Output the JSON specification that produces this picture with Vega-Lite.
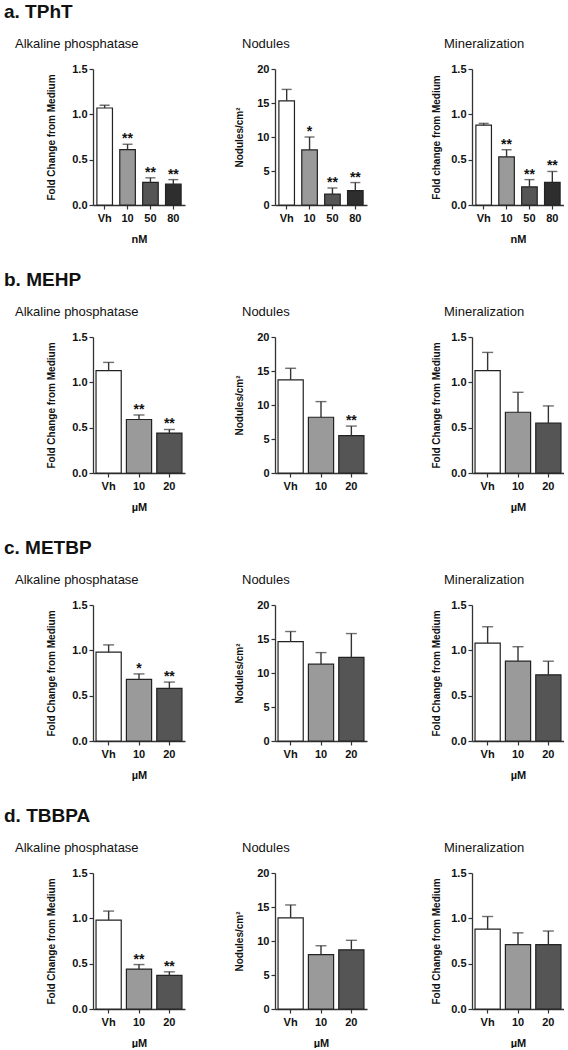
{
  "$schema": "https://vega.github.io/schema/vega-lite/v6.json",
  "padding": {"left": 4, "top": 3, "right": 0, "bottom": 0},
  "background": "white",
  "datasets": {
    "bars": [
      {"sec": "a", "panel": "ALP", "grp": "Vh", "value": 1.07, "hi": 1.10, "sig": ""},
      {"sec": "a", "panel": "ALP", "grp": "10", "value": 0.61, "hi": 0.67, "sig": "**"},
      {"sec": "a", "panel": "ALP", "grp": "50", "value": 0.25, "hi": 0.30, "sig": "**"},
      {"sec": "a", "panel": "ALP", "grp": "80", "value": 0.23, "hi": 0.28, "sig": "**"},
      {"sec": "a", "panel": "NOD", "grp": "Vh", "value": 15.3, "hi": 17.0, "sig": ""},
      {"sec": "a", "panel": "NOD", "grp": "10", "value": 8.1, "hi": 10.0, "sig": "*"},
      {"sec": "a", "panel": "NOD", "grp": "50", "value": 1.6, "hi": 2.5, "sig": "**"},
      {"sec": "a", "panel": "NOD", "grp": "80", "value": 2.1, "hi": 3.3, "sig": "**"},
      {"sec": "a", "panel": "MIN", "grp": "Vh", "value": 0.88, "hi": 0.90, "sig": ""},
      {"sec": "a", "panel": "MIN", "grp": "10", "value": 0.53, "hi": 0.61, "sig": "**"},
      {"sec": "a", "panel": "MIN", "grp": "50", "value": 0.20, "hi": 0.28, "sig": "**"},
      {"sec": "a", "panel": "MIN", "grp": "80", "value": 0.25, "hi": 0.37, "sig": "**"},
      {"sec": "b", "panel": "ALP", "grp": "Vh", "value": 1.13, "hi": 1.22, "sig": ""},
      {"sec": "b", "panel": "ALP", "grp": "10", "value": 0.59, "hi": 0.64, "sig": "**"},
      {"sec": "b", "panel": "ALP", "grp": "20", "value": 0.44, "hi": 0.48, "sig": "**"},
      {"sec": "b", "panel": "NOD", "grp": "Vh", "value": 13.7, "hi": 15.4, "sig": ""},
      {"sec": "b", "panel": "NOD", "grp": "10", "value": 8.2, "hi": 10.5, "sig": ""},
      {"sec": "b", "panel": "NOD", "grp": "20", "value": 5.5, "hi": 6.9, "sig": "**"},
      {"sec": "b", "panel": "MIN", "grp": "Vh", "value": 1.13, "hi": 1.33, "sig": ""},
      {"sec": "b", "panel": "MIN", "grp": "10", "value": 0.67, "hi": 0.89, "sig": ""},
      {"sec": "b", "panel": "MIN", "grp": "20", "value": 0.55, "hi": 0.74, "sig": ""},
      {"sec": "c", "panel": "ALP", "grp": "Vh", "value": 0.98, "hi": 1.06, "sig": ""},
      {"sec": "c", "panel": "ALP", "grp": "10", "value": 0.68, "hi": 0.74, "sig": "*"},
      {"sec": "c", "panel": "ALP", "grp": "20", "value": 0.58, "hi": 0.65, "sig": "**"},
      {"sec": "c", "panel": "NOD", "grp": "Vh", "value": 14.6, "hi": 16.1, "sig": ""},
      {"sec": "c", "panel": "NOD", "grp": "10", "value": 11.3, "hi": 13.0, "sig": ""},
      {"sec": "c", "panel": "NOD", "grp": "20", "value": 12.3, "hi": 15.8, "sig": ""},
      {"sec": "c", "panel": "MIN", "grp": "Vh", "value": 1.08, "hi": 1.26, "sig": ""},
      {"sec": "c", "panel": "MIN", "grp": "10", "value": 0.88, "hi": 1.04, "sig": ""},
      {"sec": "c", "panel": "MIN", "grp": "20", "value": 0.73, "hi": 0.88, "sig": ""},
      {"sec": "d", "panel": "ALP", "grp": "Vh", "value": 0.98, "hi": 1.08, "sig": ""},
      {"sec": "d", "panel": "ALP", "grp": "10", "value": 0.44, "hi": 0.49, "sig": "**"},
      {"sec": "d", "panel": "ALP", "grp": "20", "value": 0.37, "hi": 0.41, "sig": "**"},
      {"sec": "d", "panel": "NOD", "grp": "Vh", "value": 13.4, "hi": 15.3, "sig": ""},
      {"sec": "d", "panel": "NOD", "grp": "10", "value": 8.0, "hi": 9.3, "sig": ""},
      {"sec": "d", "panel": "NOD", "grp": "20", "value": 8.7, "hi": 10.1, "sig": ""},
      {"sec": "d", "panel": "MIN", "grp": "Vh", "value": 0.88, "hi": 1.02, "sig": ""},
      {"sec": "d", "panel": "MIN", "grp": "10", "value": 0.71, "hi": 0.84, "sig": ""},
      {"sec": "d", "panel": "MIN", "grp": "20", "value": 0.71, "hi": 0.86, "sig": ""}
    ]
  },
  "data": {"name": "bars"},
  "config": {
    "font": "Liberation Sans",
    "view": {"stroke": null},
    "axis": {
      "grid": false,
      "labelFont": "Liberation Sans",
      "labelFontWeight": "bold",
      "labelFontSize": 11,
      "labelColor": "#111",
      "titleFont": "Liberation Sans",
      "titleFontWeight": "bold",
      "titleFontSize": 10,
      "titleColor": "#111",
      "domainColor": "#333",
      "domainWidth": 1.3,
      "tickColor": "#333",
      "tickWidth": 1.2,
      "tickSize": 4,
      "labelOverlap": false
    },
    "axisX": {"labelAngle": 0, "labelPadding": 3, "titlePadding": 10, "titleFontSize": 11},
    "axisY": {"labelPadding": 2},
    "title": {"font": "Liberation Sans", "color": "#111"},
    "concat": {"spacing": 27}
  },
  "vconcat": [
    {
      "title": {"text": "a. TPhT", "fontSize": 19, "fontWeight": "bold", "anchor": "start", "offset": 16, "dx": -11},
      "spacing": 49,
      "hconcat": [
        {
          "width": 92, "height": 136,
          "title": {"text": "Alkaline phosphatase", "fontSize": 13, "fontWeight": "normal", "anchor": "start", "frame": "group", "dx": -78, "offset": 12},
          "transform": [{"filter": "datum.sec == 'a' && datum.panel == 'ALP'"}],
          "encoding": {"x": {"field": "grp", "type": "nominal", "sort": null, "scale": {"paddingInner": 0.32, "paddingOuter": 0.17}, "axis": {"title": "nM"}}},
          "layer": [
            {"mark": {"type": "bar", "stroke": "#222", "strokeWidth": 1.2}, "encoding": {"y": {"field": "value", "type": "quantitative", "scale": {"domain": [0, 1.5], "nice": false}, "axis": {"values": [0, 0.5, 1, 1.5], "format": ".1f", "title": "Fold Change from Medium", "titlePadding": 15}}, "fill": {"field": "grp", "type": "nominal", "scale": {"domain": ["Vh", "10", "50", "80", "20"], "range": ["#ffffff", "#9a9a9a", "#555555", "#2e2e2e", "#555555"]}, "legend": null}}},
            {"mark": {"type": "rule", "color": "#333", "strokeWidth": 1.4}, "encoding": {"y": {"field": "value", "type": "quantitative", "axis": {"values": [0, 0.5, 1, 1.5], "format": ".1f", "title": "Fold Change from Medium", "titlePadding": 15}}, "y2": {"field": "hi"}}},
            {"mark": {"type": "tick", "orient": "horizontal", "color": "#333", "thickness": 1.4, "size": 10}, "encoding": {"y": {"field": "hi", "type": "quantitative", "axis": {"values": [0, 0.5, 1, 1.5], "format": ".1f", "title": "Fold Change from Medium", "titlePadding": 15}}}},
            {"mark": {"type": "text", "baseline": "bottom", "fontWeight": "bold", "fontSize": 14, "dy": 2, "color": "#111"}, "encoding": {"y": {"field": "hi", "type": "quantitative", "axis": {"values": [0, 0.5, 1, 1.5], "format": ".1f", "title": "Fold Change from Medium", "titlePadding": 15}}, "text": {"field": "sig"}}}
          ]
        },
        {
          "spacing": 64,
          "hconcat": [
            {
              "width": 92, "height": 136,
              "title": {"text": "Nodules", "fontSize": 13, "fontWeight": "normal", "anchor": "start", "frame": "group", "dx": -33, "offset": 12},
              "transform": [{"filter": "datum.sec == 'a' && datum.panel == 'NOD'"}],
              "encoding": {"x": {"field": "grp", "type": "nominal", "sort": null, "scale": {"paddingInner": 0.32, "paddingOuter": 0.17}, "axis": {"title": null}}},
              "layer": [
                {"mark": {"type": "bar", "stroke": "#222", "strokeWidth": 1.2}, "encoding": {"y": {"field": "value", "type": "quantitative", "scale": {"domain": [0, 20], "nice": false}, "axis": {"values": [0, 5, 10, 15, 20], "title": "Nodules/cm²", "titlePadding": 12}}, "fill": {"field": "grp", "type": "nominal", "scale": {"domain": ["Vh", "10", "50", "80", "20"], "range": ["#ffffff", "#9a9a9a", "#555555", "#2e2e2e", "#555555"]}, "legend": null}}},
                {"mark": {"type": "rule", "color": "#333", "strokeWidth": 1.4}, "encoding": {"y": {"field": "value", "type": "quantitative", "axis": {"values": [0, 5, 10, 15, 20], "title": "Nodules/cm²", "titlePadding": 12}}, "y2": {"field": "hi"}}},
                {"mark": {"type": "tick", "orient": "horizontal", "color": "#333", "thickness": 1.4, "size": 10}, "encoding": {"y": {"field": "hi", "type": "quantitative", "axis": {"values": [0, 5, 10, 15, 20], "title": "Nodules/cm²", "titlePadding": 12}}}},
                {"mark": {"type": "text", "baseline": "bottom", "fontWeight": "bold", "fontSize": 14, "dy": 2, "color": "#111"}, "encoding": {"y": {"field": "hi", "type": "quantitative", "axis": {"values": [0, 5, 10, 15, 20], "title": "Nodules/cm²", "titlePadding": 12}}, "text": {"field": "sig"}}}
              ]
            },
            {
              "width": 92, "height": 136,
              "title": {"text": "Mineralization", "fontSize": 13, "fontWeight": "normal", "anchor": "start", "frame": "group", "dx": -28, "offset": 12},
              "transform": [{"filter": "datum.sec == 'a' && datum.panel == 'MIN'"}],
              "encoding": {"x": {"field": "grp", "type": "nominal", "sort": null, "scale": {"paddingInner": 0.32, "paddingOuter": 0.17}, "axis": {"title": "nM"}}},
              "layer": [
                {"mark": {"type": "bar", "stroke": "#222", "strokeWidth": 1.2}, "encoding": {"y": {"field": "value", "type": "quantitative", "scale": {"domain": [0, 1.5], "nice": false}, "axis": {"values": [0, 0.5, 1, 1.5], "format": ".1f", "title": "Fold change from Medium", "titlePadding": 9}}, "fill": {"field": "grp", "type": "nominal", "scale": {"domain": ["Vh", "10", "50", "80", "20"], "range": ["#ffffff", "#9a9a9a", "#555555", "#2e2e2e", "#555555"]}, "legend": null}}},
                {"mark": {"type": "rule", "color": "#333", "strokeWidth": 1.4}, "encoding": {"y": {"field": "value", "type": "quantitative", "axis": {"values": [0, 0.5, 1, 1.5], "format": ".1f", "title": "Fold change from Medium", "titlePadding": 9}}, "y2": {"field": "hi"}}},
                {"mark": {"type": "tick", "orient": "horizontal", "color": "#333", "thickness": 1.4, "size": 10}, "encoding": {"y": {"field": "hi", "type": "quantitative", "axis": {"values": [0, 0.5, 1, 1.5], "format": ".1f", "title": "Fold change from Medium", "titlePadding": 9}}}},
                {"mark": {"type": "text", "baseline": "bottom", "fontWeight": "bold", "fontSize": 14, "dy": 2, "color": "#111"}, "encoding": {"y": {"field": "hi", "type": "quantitative", "axis": {"values": [0, 0.5, 1, 1.5], "format": ".1f", "title": "Fold change from Medium", "titlePadding": 9}}, "text": {"field": "sig"}}}
              ]
            }
          ]
        }
      ]
    },
    {
      "title": {"text": "b. MEHP", "fontSize": 19, "fontWeight": "bold", "anchor": "start", "offset": 16, "dx": -11},
      "spacing": 49,
      "hconcat": [
        {
          "width": 92, "height": 136,
          "title": {"text": "Alkaline phosphatase", "fontSize": 13, "fontWeight": "normal", "anchor": "start", "frame": "group", "dx": -78, "offset": 12},
          "transform": [{"filter": "datum.sec == 'b' && datum.panel == 'ALP'"}],
          "encoding": {"x": {"field": "grp", "type": "nominal", "sort": null, "scale": {"paddingInner": 0.17, "paddingOuter": 0.1}, "axis": {"title": "µM"}}},
          "layer": [
            {"mark": {"type": "bar", "stroke": "#222", "strokeWidth": 1.2}, "encoding": {"y": {"field": "value", "type": "quantitative", "scale": {"domain": [0, 1.5], "nice": false}, "axis": {"values": [0, 0.5, 1, 1.5], "format": ".1f", "title": "Fold Change from Medium", "titlePadding": 15}}, "fill": {"field": "grp", "type": "nominal", "scale": {"domain": ["Vh", "10", "50", "80", "20"], "range": ["#ffffff", "#9a9a9a", "#555555", "#2e2e2e", "#555555"]}, "legend": null}}},
            {"mark": {"type": "rule", "color": "#333", "strokeWidth": 1.4}, "encoding": {"y": {"field": "value", "type": "quantitative", "axis": {"values": [0, 0.5, 1, 1.5], "format": ".1f", "title": "Fold Change from Medium", "titlePadding": 15}}, "y2": {"field": "hi"}}},
            {"mark": {"type": "tick", "orient": "horizontal", "color": "#333", "thickness": 1.4, "size": 11}, "encoding": {"y": {"field": "hi", "type": "quantitative", "axis": {"values": [0, 0.5, 1, 1.5], "format": ".1f", "title": "Fold Change from Medium", "titlePadding": 15}}}},
            {"mark": {"type": "text", "baseline": "bottom", "fontWeight": "bold", "fontSize": 14, "dy": 2, "color": "#111"}, "encoding": {"y": {"field": "hi", "type": "quantitative", "axis": {"values": [0, 0.5, 1, 1.5], "format": ".1f", "title": "Fold Change from Medium", "titlePadding": 15}}, "text": {"field": "sig"}}}
          ]
        },
        {
          "spacing": 64,
          "hconcat": [
            {
              "width": 92, "height": 136,
              "title": {"text": "Nodules", "fontSize": 13, "fontWeight": "normal", "anchor": "start", "frame": "group", "dx": -33, "offset": 12},
              "transform": [{"filter": "datum.sec == 'b' && datum.panel == 'NOD'"}],
              "encoding": {"x": {"field": "grp", "type": "nominal", "sort": null, "scale": {"paddingInner": 0.17, "paddingOuter": 0.1}, "axis": {"title": null}}},
              "layer": [
                {"mark": {"type": "bar", "stroke": "#222", "strokeWidth": 1.2}, "encoding": {"y": {"field": "value", "type": "quantitative", "scale": {"domain": [0, 20], "nice": false}, "axis": {"values": [0, 5, 10, 15, 20], "title": "Nodules/cm²", "titlePadding": 12}}, "fill": {"field": "grp", "type": "nominal", "scale": {"domain": ["Vh", "10", "50", "80", "20"], "range": ["#ffffff", "#9a9a9a", "#555555", "#2e2e2e", "#555555"]}, "legend": null}}},
                {"mark": {"type": "rule", "color": "#333", "strokeWidth": 1.4}, "encoding": {"y": {"field": "value", "type": "quantitative", "axis": {"values": [0, 5, 10, 15, 20], "title": "Nodules/cm²", "titlePadding": 12}}, "y2": {"field": "hi"}}},
                {"mark": {"type": "tick", "orient": "horizontal", "color": "#333", "thickness": 1.4, "size": 11}, "encoding": {"y": {"field": "hi", "type": "quantitative", "axis": {"values": [0, 5, 10, 15, 20], "title": "Nodules/cm²", "titlePadding": 12}}}},
                {"mark": {"type": "text", "baseline": "bottom", "fontWeight": "bold", "fontSize": 14, "dy": 2, "color": "#111"}, "encoding": {"y": {"field": "hi", "type": "quantitative", "axis": {"values": [0, 5, 10, 15, 20], "title": "Nodules/cm²", "titlePadding": 12}}, "text": {"field": "sig"}}}
              ]
            },
            {
              "width": 92, "height": 136,
              "title": {"text": "Mineralization", "fontSize": 13, "fontWeight": "normal", "anchor": "start", "frame": "group", "dx": -28, "offset": 12},
              "transform": [{"filter": "datum.sec == 'b' && datum.panel == 'MIN'"}],
              "encoding": {"x": {"field": "grp", "type": "nominal", "sort": null, "scale": {"paddingInner": 0.17, "paddingOuter": 0.1}, "axis": {"title": "µM"}}},
              "layer": [
                {"mark": {"type": "bar", "stroke": "#222", "strokeWidth": 1.2}, "encoding": {"y": {"field": "value", "type": "quantitative", "scale": {"domain": [0, 1.5], "nice": false}, "axis": {"values": [0, 0.5, 1, 1.5], "format": ".1f", "title": "Fold Change from Medium", "titlePadding": 9}}, "fill": {"field": "grp", "type": "nominal", "scale": {"domain": ["Vh", "10", "50", "80", "20"], "range": ["#ffffff", "#9a9a9a", "#555555", "#2e2e2e", "#555555"]}, "legend": null}}},
                {"mark": {"type": "rule", "color": "#333", "strokeWidth": 1.4}, "encoding": {"y": {"field": "value", "type": "quantitative", "axis": {"values": [0, 0.5, 1, 1.5], "format": ".1f", "title": "Fold Change from Medium", "titlePadding": 9}}, "y2": {"field": "hi"}}},
                {"mark": {"type": "tick", "orient": "horizontal", "color": "#333", "thickness": 1.4, "size": 11}, "encoding": {"y": {"field": "hi", "type": "quantitative", "axis": {"values": [0, 0.5, 1, 1.5], "format": ".1f", "title": "Fold Change from Medium", "titlePadding": 9}}}},
                {"mark": {"type": "text", "baseline": "bottom", "fontWeight": "bold", "fontSize": 14, "dy": 2, "color": "#111"}, "encoding": {"y": {"field": "hi", "type": "quantitative", "axis": {"values": [0, 0.5, 1, 1.5], "format": ".1f", "title": "Fold Change from Medium", "titlePadding": 9}}, "text": {"field": "sig"}}}
              ]
            }
          ]
        }
      ]
    },
    {
      "title": {"text": "c. METBP", "fontSize": 19, "fontWeight": "bold", "anchor": "start", "offset": 16, "dx": -11},
      "spacing": 49,
      "hconcat": [
        {
          "width": 92, "height": 136,
          "title": {"text": "Alkaline phosphatase", "fontSize": 13, "fontWeight": "normal", "anchor": "start", "frame": "group", "dx": -78, "offset": 12},
          "transform": [{"filter": "datum.sec == 'c' && datum.panel == 'ALP'"}],
          "encoding": {"x": {"field": "grp", "type": "nominal", "sort": null, "scale": {"paddingInner": 0.17, "paddingOuter": 0.1}, "axis": {"title": "µM"}}},
          "layer": [
            {"mark": {"type": "bar", "stroke": "#222", "strokeWidth": 1.2}, "encoding": {"y": {"field": "value", "type": "quantitative", "scale": {"domain": [0, 1.5], "nice": false}, "axis": {"values": [0, 0.5, 1, 1.5], "format": ".1f", "title": "Fold Change from Medium", "titlePadding": 15}}, "fill": {"field": "grp", "type": "nominal", "scale": {"domain": ["Vh", "10", "50", "80", "20"], "range": ["#ffffff", "#9a9a9a", "#555555", "#2e2e2e", "#555555"]}, "legend": null}}},
            {"mark": {"type": "rule", "color": "#333", "strokeWidth": 1.4}, "encoding": {"y": {"field": "value", "type": "quantitative", "axis": {"values": [0, 0.5, 1, 1.5], "format": ".1f", "title": "Fold Change from Medium", "titlePadding": 15}}, "y2": {"field": "hi"}}},
            {"mark": {"type": "tick", "orient": "horizontal", "color": "#333", "thickness": 1.4, "size": 11}, "encoding": {"y": {"field": "hi", "type": "quantitative", "axis": {"values": [0, 0.5, 1, 1.5], "format": ".1f", "title": "Fold Change from Medium", "titlePadding": 15}}}},
            {"mark": {"type": "text", "baseline": "bottom", "fontWeight": "bold", "fontSize": 14, "dy": 2, "color": "#111"}, "encoding": {"y": {"field": "hi", "type": "quantitative", "axis": {"values": [0, 0.5, 1, 1.5], "format": ".1f", "title": "Fold Change from Medium", "titlePadding": 15}}, "text": {"field": "sig"}}}
          ]
        },
        {
          "spacing": 64,
          "hconcat": [
            {
              "width": 92, "height": 136,
              "title": {"text": "Nodules", "fontSize": 13, "fontWeight": "normal", "anchor": "start", "frame": "group", "dx": -33, "offset": 12},
              "transform": [{"filter": "datum.sec == 'c' && datum.panel == 'NOD'"}],
              "encoding": {"x": {"field": "grp", "type": "nominal", "sort": null, "scale": {"paddingInner": 0.17, "paddingOuter": 0.1}, "axis": {"title": null}}},
              "layer": [
                {"mark": {"type": "bar", "stroke": "#222", "strokeWidth": 1.2}, "encoding": {"y": {"field": "value", "type": "quantitative", "scale": {"domain": [0, 20], "nice": false}, "axis": {"values": [0, 5, 10, 15, 20], "title": "Nodules/cm²", "titlePadding": 12}}, "fill": {"field": "grp", "type": "nominal", "scale": {"domain": ["Vh", "10", "50", "80", "20"], "range": ["#ffffff", "#9a9a9a", "#555555", "#2e2e2e", "#555555"]}, "legend": null}}},
                {"mark": {"type": "rule", "color": "#333", "strokeWidth": 1.4}, "encoding": {"y": {"field": "value", "type": "quantitative", "axis": {"values": [0, 5, 10, 15, 20], "title": "Nodules/cm²", "titlePadding": 12}}, "y2": {"field": "hi"}}},
                {"mark": {"type": "tick", "orient": "horizontal", "color": "#333", "thickness": 1.4, "size": 11}, "encoding": {"y": {"field": "hi", "type": "quantitative", "axis": {"values": [0, 5, 10, 15, 20], "title": "Nodules/cm²", "titlePadding": 12}}}},
                {"mark": {"type": "text", "baseline": "bottom", "fontWeight": "bold", "fontSize": 14, "dy": 2, "color": "#111"}, "encoding": {"y": {"field": "hi", "type": "quantitative", "axis": {"values": [0, 5, 10, 15, 20], "title": "Nodules/cm²", "titlePadding": 12}}, "text": {"field": "sig"}}}
              ]
            },
            {
              "width": 92, "height": 136,
              "title": {"text": "Mineralization", "fontSize": 13, "fontWeight": "normal", "anchor": "start", "frame": "group", "dx": -28, "offset": 12},
              "transform": [{"filter": "datum.sec == 'c' && datum.panel == 'MIN'"}],
              "encoding": {"x": {"field": "grp", "type": "nominal", "sort": null, "scale": {"paddingInner": 0.17, "paddingOuter": 0.1}, "axis": {"title": "µM"}}},
              "layer": [
                {"mark": {"type": "bar", "stroke": "#222", "strokeWidth": 1.2}, "encoding": {"y": {"field": "value", "type": "quantitative", "scale": {"domain": [0, 1.5], "nice": false}, "axis": {"values": [0, 0.5, 1, 1.5], "format": ".1f", "title": "Fold Change from Medium", "titlePadding": 9}}, "fill": {"field": "grp", "type": "nominal", "scale": {"domain": ["Vh", "10", "50", "80", "20"], "range": ["#ffffff", "#9a9a9a", "#555555", "#2e2e2e", "#555555"]}, "legend": null}}},
                {"mark": {"type": "rule", "color": "#333", "strokeWidth": 1.4}, "encoding": {"y": {"field": "value", "type": "quantitative", "axis": {"values": [0, 0.5, 1, 1.5], "format": ".1f", "title": "Fold Change from Medium", "titlePadding": 9}}, "y2": {"field": "hi"}}},
                {"mark": {"type": "tick", "orient": "horizontal", "color": "#333", "thickness": 1.4, "size": 11}, "encoding": {"y": {"field": "hi", "type": "quantitative", "axis": {"values": [0, 0.5, 1, 1.5], "format": ".1f", "title": "Fold Change from Medium", "titlePadding": 9}}}},
                {"mark": {"type": "text", "baseline": "bottom", "fontWeight": "bold", "fontSize": 14, "dy": 2, "color": "#111"}, "encoding": {"y": {"field": "hi", "type": "quantitative", "axis": {"values": [0, 0.5, 1, 1.5], "format": ".1f", "title": "Fold Change from Medium", "titlePadding": 9}}, "text": {"field": "sig"}}}
              ]
            }
          ]
        }
      ]
    },
    {
      "title": {"text": "d. TBBPA", "fontSize": 19, "fontWeight": "bold", "anchor": "start", "offset": 16, "dx": -11},
      "spacing": 49,
      "hconcat": [
        {
          "width": 92, "height": 136,
          "title": {"text": "Alkaline phosphatase", "fontSize": 13, "fontWeight": "normal", "anchor": "start", "frame": "group", "dx": -78, "offset": 12},
          "transform": [{"filter": "datum.sec == 'd' && datum.panel == 'ALP'"}],
          "encoding": {"x": {"field": "grp", "type": "nominal", "sort": null, "scale": {"paddingInner": 0.17, "paddingOuter": 0.1}, "axis": {"title": "µM"}}},
          "layer": [
            {"mark": {"type": "bar", "stroke": "#222", "strokeWidth": 1.2}, "encoding": {"y": {"field": "value", "type": "quantitative", "scale": {"domain": [0, 1.5], "nice": false}, "axis": {"values": [0, 0.5, 1, 1.5], "format": ".1f", "title": "Fold Change from Medium", "titlePadding": 15}}, "fill": {"field": "grp", "type": "nominal", "scale": {"domain": ["Vh", "10", "50", "80", "20"], "range": ["#ffffff", "#9a9a9a", "#555555", "#2e2e2e", "#555555"]}, "legend": null}}},
            {"mark": {"type": "rule", "color": "#333", "strokeWidth": 1.4}, "encoding": {"y": {"field": "value", "type": "quantitative", "axis": {"values": [0, 0.5, 1, 1.5], "format": ".1f", "title": "Fold Change from Medium", "titlePadding": 15}}, "y2": {"field": "hi"}}},
            {"mark": {"type": "tick", "orient": "horizontal", "color": "#333", "thickness": 1.4, "size": 11}, "encoding": {"y": {"field": "hi", "type": "quantitative", "axis": {"values": [0, 0.5, 1, 1.5], "format": ".1f", "title": "Fold Change from Medium", "titlePadding": 15}}}},
            {"mark": {"type": "text", "baseline": "bottom", "fontWeight": "bold", "fontSize": 14, "dy": 2, "color": "#111"}, "encoding": {"y": {"field": "hi", "type": "quantitative", "axis": {"values": [0, 0.5, 1, 1.5], "format": ".1f", "title": "Fold Change from Medium", "titlePadding": 15}}, "text": {"field": "sig"}}}
          ]
        },
        {
          "spacing": 64,
          "hconcat": [
            {
              "width": 92, "height": 136,
              "title": {"text": "Nodules", "fontSize": 13, "fontWeight": "normal", "anchor": "start", "frame": "group", "dx": -33, "offset": 12},
              "transform": [{"filter": "datum.sec == 'd' && datum.panel == 'NOD'"}],
              "encoding": {"x": {"field": "grp", "type": "nominal", "sort": null, "scale": {"paddingInner": 0.17, "paddingOuter": 0.1}, "axis": {"title": "µM"}}},
              "layer": [
                {"mark": {"type": "bar", "stroke": "#222", "strokeWidth": 1.2}, "encoding": {"y": {"field": "value", "type": "quantitative", "scale": {"domain": [0, 20], "nice": false}, "axis": {"values": [0, 5, 10, 15, 20], "title": "Nodules/cm²", "titlePadding": 12}}, "fill": {"field": "grp", "type": "nominal", "scale": {"domain": ["Vh", "10", "50", "80", "20"], "range": ["#ffffff", "#9a9a9a", "#555555", "#2e2e2e", "#555555"]}, "legend": null}}},
                {"mark": {"type": "rule", "color": "#333", "strokeWidth": 1.4}, "encoding": {"y": {"field": "value", "type": "quantitative", "axis": {"values": [0, 5, 10, 15, 20], "title": "Nodules/cm²", "titlePadding": 12}}, "y2": {"field": "hi"}}},
                {"mark": {"type": "tick", "orient": "horizontal", "color": "#333", "thickness": 1.4, "size": 11}, "encoding": {"y": {"field": "hi", "type": "quantitative", "axis": {"values": [0, 5, 10, 15, 20], "title": "Nodules/cm²", "titlePadding": 12}}}},
                {"mark": {"type": "text", "baseline": "bottom", "fontWeight": "bold", "fontSize": 14, "dy": 2, "color": "#111"}, "encoding": {"y": {"field": "hi", "type": "quantitative", "axis": {"values": [0, 5, 10, 15, 20], "title": "Nodules/cm²", "titlePadding": 12}}, "text": {"field": "sig"}}}
              ]
            },
            {
              "width": 92, "height": 136,
              "title": {"text": "Mineralization", "fontSize": 13, "fontWeight": "normal", "anchor": "start", "frame": "group", "dx": -28, "offset": 12},
              "transform": [{"filter": "datum.sec == 'd' && datum.panel == 'MIN'"}],
              "encoding": {"x": {"field": "grp", "type": "nominal", "sort": null, "scale": {"paddingInner": 0.17, "paddingOuter": 0.1}, "axis": {"title": "µM"}}},
              "layer": [
                {"mark": {"type": "bar", "stroke": "#222", "strokeWidth": 1.2}, "encoding": {"y": {"field": "value", "type": "quantitative", "scale": {"domain": [0, 1.5], "nice": false}, "axis": {"values": [0, 0.5, 1, 1.5], "format": ".1f", "title": "Fold Change from Medium", "titlePadding": 9}}, "fill": {"field": "grp", "type": "nominal", "scale": {"domain": ["Vh", "10", "50", "80", "20"], "range": ["#ffffff", "#9a9a9a", "#555555", "#2e2e2e", "#555555"]}, "legend": null}}},
                {"mark": {"type": "rule", "color": "#333", "strokeWidth": 1.4}, "encoding": {"y": {"field": "value", "type": "quantitative", "axis": {"values": [0, 0.5, 1, 1.5], "format": ".1f", "title": "Fold Change from Medium", "titlePadding": 9}}, "y2": {"field": "hi"}}},
                {"mark": {"type": "tick", "orient": "horizontal", "color": "#333", "thickness": 1.4, "size": 11}, "encoding": {"y": {"field": "hi", "type": "quantitative", "axis": {"values": [0, 0.5, 1, 1.5], "format": ".1f", "title": "Fold Change from Medium", "titlePadding": 9}}}},
                {"mark": {"type": "text", "baseline": "bottom", "fontWeight": "bold", "fontSize": 14, "dy": 2, "color": "#111"}, "encoding": {"y": {"field": "hi", "type": "quantitative", "axis": {"values": [0, 0.5, 1, 1.5], "format": ".1f", "title": "Fold Change from Medium", "titlePadding": 9}}, "text": {"field": "sig"}}}
              ]
            }
          ]
        }
      ]
    }
  ]
}
